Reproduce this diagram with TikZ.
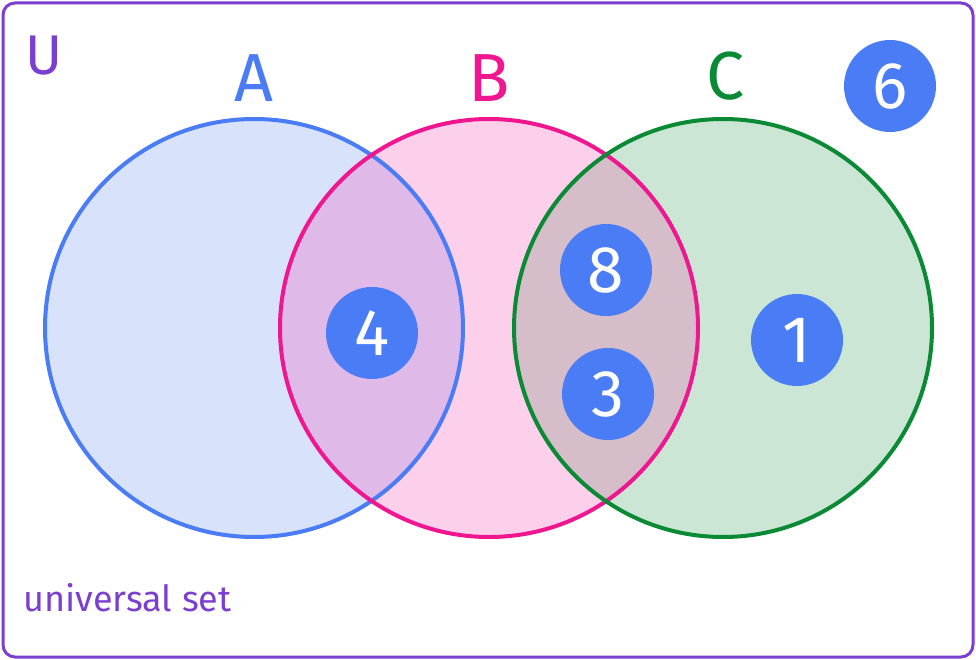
\documentclass[tikz,border=0pt]{standalone}
\usepackage{fontspec}
\setmainfont{Fira Sans}
\definecolor{pur}{HTML}{7B3FD0}
\definecolor{bl}{HTML}{4A7CF5}
\definecolor{pk}{HTML}{F0168F}
\definecolor{gr}{HTML}{0A8A35}
\definecolor{fa}{HTML}{D8E3FB}
\definecolor{fb}{HTML}{FCCFEA}
\definecolor{fc}{HTML}{CCE6D6}
\definecolor{fab}{HTML}{DFB9E8}
\definecolor{fbc}{HTML}{D5BDC9}
\begin{document}
\begin{tikzpicture}[x=1pt,y=-1pt,
  num/.style={circle,fill=bl,minimum size=92pt,inner sep=0pt,text=white,font=\fontsize{66}{66}\selectfont},
  lab/.style={font=\fontsize{68}{68}\selectfont}]
\useasboundingbox (0,0) rectangle (976,660);
\draw[pur,line width=3pt,rounded corners=12pt] (3,3) rectangle (973,657);
\fill[fa] (254,328) circle (209);
\fill[fb] (489,328) circle (209);
\fill[fc] (723,328) circle (209);
\begin{scope}\clip (254,328) circle (209); \fill[fab] (489,328) circle (209);\end{scope}
\begin{scope}\clip (723,328) circle (209); \fill[fbc] (489,328) circle (209);\end{scope}
\draw[bl,line width=4pt] (254,328) circle (209);
\draw[pk,line width=4pt] (489,328) circle (209);
\draw[gr,line width=4pt] (723,328) circle (209);
\node[lab,text=bl] (la) at (254,78) {A};
\node[lab,text=pk] (lb) at (489,78) {B};
\node[lab,text=gr] (lc) at (726,76) {C};
\node[text=pur,font=\fontsize{56}{56}\selectfont] (u) at (44,56) {U};
\node[text=pur,font=\fontsize{36}{36}\selectfont,anchor=west] (us) at (20,598) {universal set};
\node[num] (n6) at (890,86) {6};
\node[num] (n4) at (372,333) {4};
\node[num] (n8) at (606,270) {8};
\node[num] (n3) at (608,394) {3};
\node[num] (n1) at (797,340) {1};
\end{tikzpicture}
\end{document}
